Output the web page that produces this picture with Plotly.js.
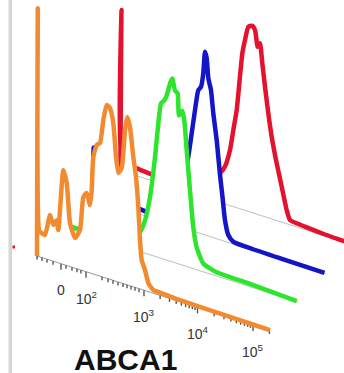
<!DOCTYPE html>
<html><head><meta charset="utf-8">
<script src="https://cdn.plot.ly/plotly-3.0.1.min.js"></script>
<style>html,body{margin:0;padding:0;background:#fff;}#chart{width:344px;height:373px;}</style>
</head><body><div id="chart"></div>
<script>
// ---- data: display position t (decade units on the biexponential axis) and count (% of mode)
const orangeT = [1.055,1.07,1.095,1.141,1.202,1.294,1.354,1.416,1.446,1.538,1.600,1.661,1.752,1.844,1.905,1.967,2.027,2.059,2.088,2.150,2.211,2.272,2.334,2.394,2.455,2.505,2.547,2.609,2.670,2.712,2.761,2.822,2.872,2.914,2.945,2.976,3.037,3.097,3.189,3.312,3.6,4.0,4.5,5.0,5.33];
const orangeC = [0,134,14,13.2,12.7,24.4,19.6,22.8,17.7,51,44.6,23.5,16.3,21.5,39.9,42.7,36.7,45.1,63.2,70.3,72,85,93.7,92.6,85.1,67.2,58.9,62.2,83.3,90.8,85.8,70.2,59.8,44,26.5,15.9,11.1,4.6,1.7,1.5,1.0,0.7,0.5,0.3,0.2];

const greenT = [1.055,1.075,1.211,1.5,1.8,2.1,2.3,2.435,2.527,2.618,2.710,2.771,2.820,2.881,2.925,2.985,3.027,3.077,3.126,3.150,3.211,3.248,3.292,3.352,3.413,3.475,3.596,3.842,4.453,5.31];
const greenC = [0,2,1.5,2,3,5,7.5,10.5,17.7,31.1,53.6,72.4,83.7,85.9,89,96,99.1,93.1,92,80.3,83.5,78.5,62.7,41.7,22.2,12,4.5,2.1,1.6,0.3];

const blueT = [1.055,1.075,1.095,1.3,1.6,1.894,2.048,2.3,2.5,2.65,2.75,2.811,2.873,2.934,2.994,3.044,3.086,3.117,3.148,3.178,3.227,3.270,3.332,3.393,3.435,3.484,3.545,3.64,4.0,4.5,5.31];
const blueC = [0,28,2,2,2.3,2.8,2.4,4,8,18,30,39.4,52.6,65.8,77.1,79.4,87,99,95.9,85.4,79.4,67.1,53.3,35,24.5,11.5,4,1.2,0.6,0.4,0.2];

const redT = [1.055,1.075,1.095,1.354,1.659,2.0,2.3,2.55,2.72,2.883,2.974,3.066,3.127,3.189,3.249,3.292,3.341,3.402,3.475,3.525,3.574,3.616,3.659,3.708,3.769,3.831,3.923,4.015,4.106,4.167,4.442,4.809,5.145,5.31];
const redC = [0,87,4,4,3.2,3.5,4.5,7,10,15.7,20.2,30,41.4,52.8,71.4,84.4,92.1,99.8,101,99.2,90.6,92.9,82.5,70.3,56.5,44.4,30.9,19.1,7.4,2.6,1.6,0.8,0.5,0.3];

const majorTickT = [1.495,1.954,3.018,4.0,5.018];
const tickLabels = ['0','10<sup>2</sup>','10<sup>3</sup>','10<sup>4</sup>','10<sup>5</sup>'];
const minorTickT = [1.055,1.147,1.238,1.349,1.587,1.697,1.789,1.862,2.248,2.358,2.449,2.541,2.633,2.706,2.780,2.853,2.927,3.314,3.486,3.609,3.704,3.782,3.848,3.905,3.955,4.306,4.486,4.613,4.712,4.792,4.860,4.919,4.971,5.32];
const axisTitle = 'ABCA1';

// ---- oblique offset-histogram projection (layout geometry)
const X0=37, Y0=256, T0=1.055, TEND=5.33, DEC=54.5, SLOPE=0.32, HPX=1.85, OFFX=27.8, OFFY=-28.5;
function proj(t,c,k){const u=(t-T0)*DEC;return [X0+u+k*OFFX, Y0+SLOPE*u+k*OFFY-c*HPX];}

const series = [ // back to front
  {T:redT,C:redC,k:3,color:'#e3122e'},
  {T:blueT,C:blueC,k:2,color:'#1414c8'},
  {T:greenT,C:greenC,k:1,color:'#2ee52e'},
  {T:orangeT,C:orangeC,k:0,color:'#f28a30'}
];

const traces=[];
series.forEach(s=>{
  const px=[],py=[];
  s.T.forEach((t,i)=>{const p=proj(t,s.C[i],s.k);px.push(p[0]);py.push(p[1]);});
  const b0=proj(T0,0,s.k), b1=proj(TEND,0,s.k), bl=proj(s.T[s.T.length-1],0,s.k);
  traces.push({x:[b0[0]].concat(px,[bl[0]]),y:[b0[1]].concat(py,[bl[1]]),mode:'lines',fill:'toself',fillcolor:'#ffffff',line:{width:0,shape:'spline',smoothing:0.5},hoverinfo:'skip'});
  traces.push({x:[b0[0],b1[0]],y:[b0[1],b1[1]],mode:'lines',line:{color:s.k===0?'#9a9a9a':'#bfbfbf',width:1},hoverinfo:'skip'});
  if(s.k===0){
    const tx=[],ty=[];
    minorTickT.forEach(t=>{const p=proj(t,0,0);tx.push(p[0],p[0],null);ty.push(p[1],p[1]+3.5,null);});
    majorTickT.forEach(t=>{const p=proj(t,0,0);tx.push(p[0],p[0],null);ty.push(p[1],p[1]+6,null);});
    traces.push({x:tx,y:ty,mode:'lines',line:{color:'#555',width:1.4},hoverinfo:'skip'});
  }
  traces.push({x:px,y:py,mode:'lines',line:{color:s.color,width:4.5,shape:'spline',smoothing:0.5},hoverinfo:'skip'});
});

const annotations = majorTickT.map((t,i)=>{const p=proj(t,0,0);return {x:p[0],y:p[1]+26,xref:'x',yref:'y',text:tickLabels[i],showarrow:false,xanchor:'center',yanchor:'middle',font:{family:'Liberation Sans, Arial, sans-serif',size:14,color:'#333'}};});
annotations.push({x:125,y:359,xref:'x',yref:'y',text:'<b>'+axisTitle+'</b>',showarrow:false,xanchor:'center',yanchor:'middle',font:{family:'Liberation Sans, Arial, sans-serif',size:30,color:'#111'}});

const layout={width:344,height:373,margin:{l:0,r:0,t:0,b:0},paper_bgcolor:'#fff',plot_bgcolor:'#fff',showlegend:false,
  xaxis:{range:[0,344],visible:false,fixedrange:true},
  yaxis:{range:[373,0],visible:false,fixedrange:true},
  shapes:[
    {type:'rect',xref:'x',yref:'y',x0:8.5,x1:12,y0:0,y1:373,fillcolor:'#d6d6d6',line:{width:0},layer:'below'},
    {type:'line',xref:'x',yref:'y',x0:12.5,x1:15,y0:247,y1:247,line:{color:'#e3122e',width:3}}
  ],
  annotations:annotations};
Plotly.newPlot('chart',traces,layout,{staticPlot:true,displayModeBar:false});
</script></body></html>
